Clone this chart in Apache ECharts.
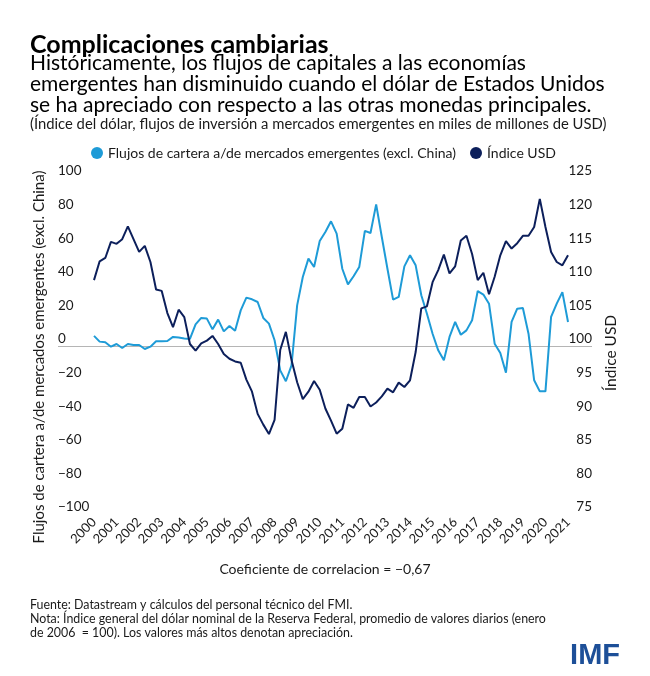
<!DOCTYPE html>
<html><head><meta charset="utf-8">
<script src="https://cdn.jsdelivr.net/npm/echarts@6/dist/echarts.min.js"></script>
<style>html,body{margin:0;padding:0;background:#fff}#c{width:650px;height:676px}</style>
</head><body><div id="c"></div>
<script>
const years = [2000,2001,2002,2003,2004,2005,2006,2007,2008,2009,2010,2011,2012,2013,2014,2015,2016,2017,2018,2019,2020,2021];
const flows = [6.0,2.6,2.2,-0.4,1.2,-1.2,1.2,0.6,0.6,-1.8,-0.4,2.8,2.8,3.0,5.4,5.0,4.4,4.2,12.9,16.7,16.3,9.9,15.7,8.7,11.9,9.1,21.2,28.8,27.8,26.2,16.7,13.3,3.4,-14.5,-21.0,-11.5,24.2,41.1,52.0,47.0,62.5,67.9,74.2,66.9,46.0,36.7,41.5,47.0,68.5,67.3,84.3,64.9,46.0,27.6,29.2,47.4,54.0,48.0,30.2,19.2,7.3,-2.6,-8.5,5.4,14.3,6.7,9.3,15.3,32.7,30.6,25.2,1.4,-4.2,-15.9,14.3,22.2,22.6,7.3,-20.4,-27.0,-27.0,17.3,25.2,32.1,14.3];
const usd = [109.8,112.6,113.1,115.5,115.2,115.9,117.8,115.9,114.0,114.9,112.5,108.4,108.2,104.9,102.8,105.4,104.3,100.3,99.3,100.4,100.8,101.5,100.3,98.8,98.1,97.7,97.5,95.0,93.2,89.9,88.3,86.9,89.0,99.4,102.1,97.9,94.6,92.1,93.2,94.8,93.5,90.7,88.9,86.95,87.7,91.3,90.8,92.4,92.4,91.0,91.6,92.5,93.65,93.1,94.55,93.9,94.9,99.1,105.6,105.9,109.5,111.3,113.6,110.8,111.85,115.7,116.4,113.7,109.8,110.9,107.7,110.3,113.5,115.6,114.5,115.3,116.4,116.4,117.7,121.9,117.7,114.0,112.5,112.0,113.5];
const leftTicks = {min:-100, max:100, interval:20};
const rightTicks = {min:75, max:125, interval:5};
const seriesNames = ['Flujos de cartera a/de mercados emergentes (excl. China)', 'Índice USD'];

const FONT = 'Lato';
const TXT = '#1a1a1a';
const BLUE = '#1e9bd7';
const NAVY = '#0c1f5b';

const flowData = flows.map((v,i)=>[i,v]);
const usdData = usd.map((v,i)=>[i,v]);
const yearTicks = years.map((y,k)=>k*4);

const chart = echarts.init(document.getElementById('c'), null, {renderer:'canvas'});
chart.setOption({
  backgroundColor:'#fff',
  animation:false,
  textStyle:{fontFamily:FONT, color:TXT},
  grid:{left:58, right:58, top:178, bottom:162},
  legend:{
    left:86, top:141, icon:'circle', itemWidth:12, itemHeight:12, itemGap:14,
    textStyle:{fontFamily:FONT, fontSize:14, color:TXT},
    data:seriesNames
  },
  xAxis:{
    type:'value', min:-6.38, max:88.25,
    splitLine:{show:false}, axisLine:{show:false}, axisTick:{show:false},
    axisLabel:{
      customValues:yearTicks, rotate:45, fontSize:13, color:TXT, margin:6,
      formatter:(v)=>String(years[Math.round(v/4)])
    }
  },
  yAxis:[
    {type:'value', min:leftTicks.min, max:leftTicks.max, interval:leftTicks.interval,
     splitLine:{show:false}, axisLine:{show:false}, axisTick:{show:false},
     axisLabel:{inside:true, verticalAlign:'bottom', margin:0, fontSize:13.5, color:TXT,
       formatter:(v)=> v<0 ? '\u2212'+Math.abs(v) : String(v)},
     name:'Flujos de cartera a/de mercados emergentes (excl. China)',
     nameLocation:'middle', nameRotate:90, nameGap:11,
     nameTextStyle:{fontSize:15, color:TXT, padding:[0,22,0,0]}
    },
    {type:'value', min:rightTicks.min, max:rightTicks.max, interval:rightTicks.interval, position:'right',
     splitLine:{show:false}, axisLine:{show:false}, axisTick:{show:false},
     axisLabel:{inside:true, verticalAlign:'bottom', margin:0, fontSize:13.5, color:TXT},
     name:'Índice USD', nameLocation:'middle', nameRotate:90, nameGap:10,
     nameTextStyle:{fontSize:15.5, color:TXT, padding:[0,14,0,0]}
    }
  ],
  series:[
    {name:seriesNames[0], type:'line', yAxisIndex:0, data:flowData, showSymbol:false, symbol:'none',
     lineStyle:{color:BLUE, width:2}, itemStyle:{color:BLUE}, z:3,
     markLine:{silent:true, symbol:['none','none'], label:{show:false},
       lineStyle:{color:'#b5b5b5', width:1, type:'solid'}, data:[{yAxis:0}], z:1}
    },
    {name:seriesNames[1], type:'line', yAxisIndex:1, data:usdData, showSymbol:false, symbol:'none',
     lineStyle:{color:NAVY, width:2}, itemStyle:{color:NAVY}, z:4}
  ],
  graphic:[
    {type:'text', left:30, top:32, style:{text:'Complicaciones cambiarias', font:'bold 25px '+FONT, fill:'#000'}},
    {type:'text', left:30, top:53, style:{text:'Históricamente, los flujos de capitales a las economías\nemergentes han disminuido cuando el dólar de Estados Unidos\nse ha apreciado con respecto a las otras monedas principales.', font:'21px '+FONT, lineHeight:21, fill:'#000'}},
    {type:'text', left:30, top:117, style:{text:'(Índice del dólar, flujos de inversión a mercados emergentes en miles de millones de USD)', font:'14.8px '+FONT, fill:TXT}},
    {type:'text', left:'center', top:562, style:{text:'Coeficiente de correlacion = \u22120,67', font:'14px '+FONT, fill:TXT}},
    {type:'text', left:30, top:598, style:{text:'Fuente: Datastream y cálculos del personal técnico del FMI.\nNota: Índice general del dólar nominal de la Reserva Federal, promedio de valores diarios (enero\nde 2006  = 100). Los valores más altos denotan apreciación.', font:'12.4px '+FONT, lineHeight:14, fill:TXT}},
    {type:'text', right:30, top:641, style:{text:'IMF', font:'bold 29px "Liberation Sans"', fill:'#1d4f98'}}
  ]
});
</script></body></html>
